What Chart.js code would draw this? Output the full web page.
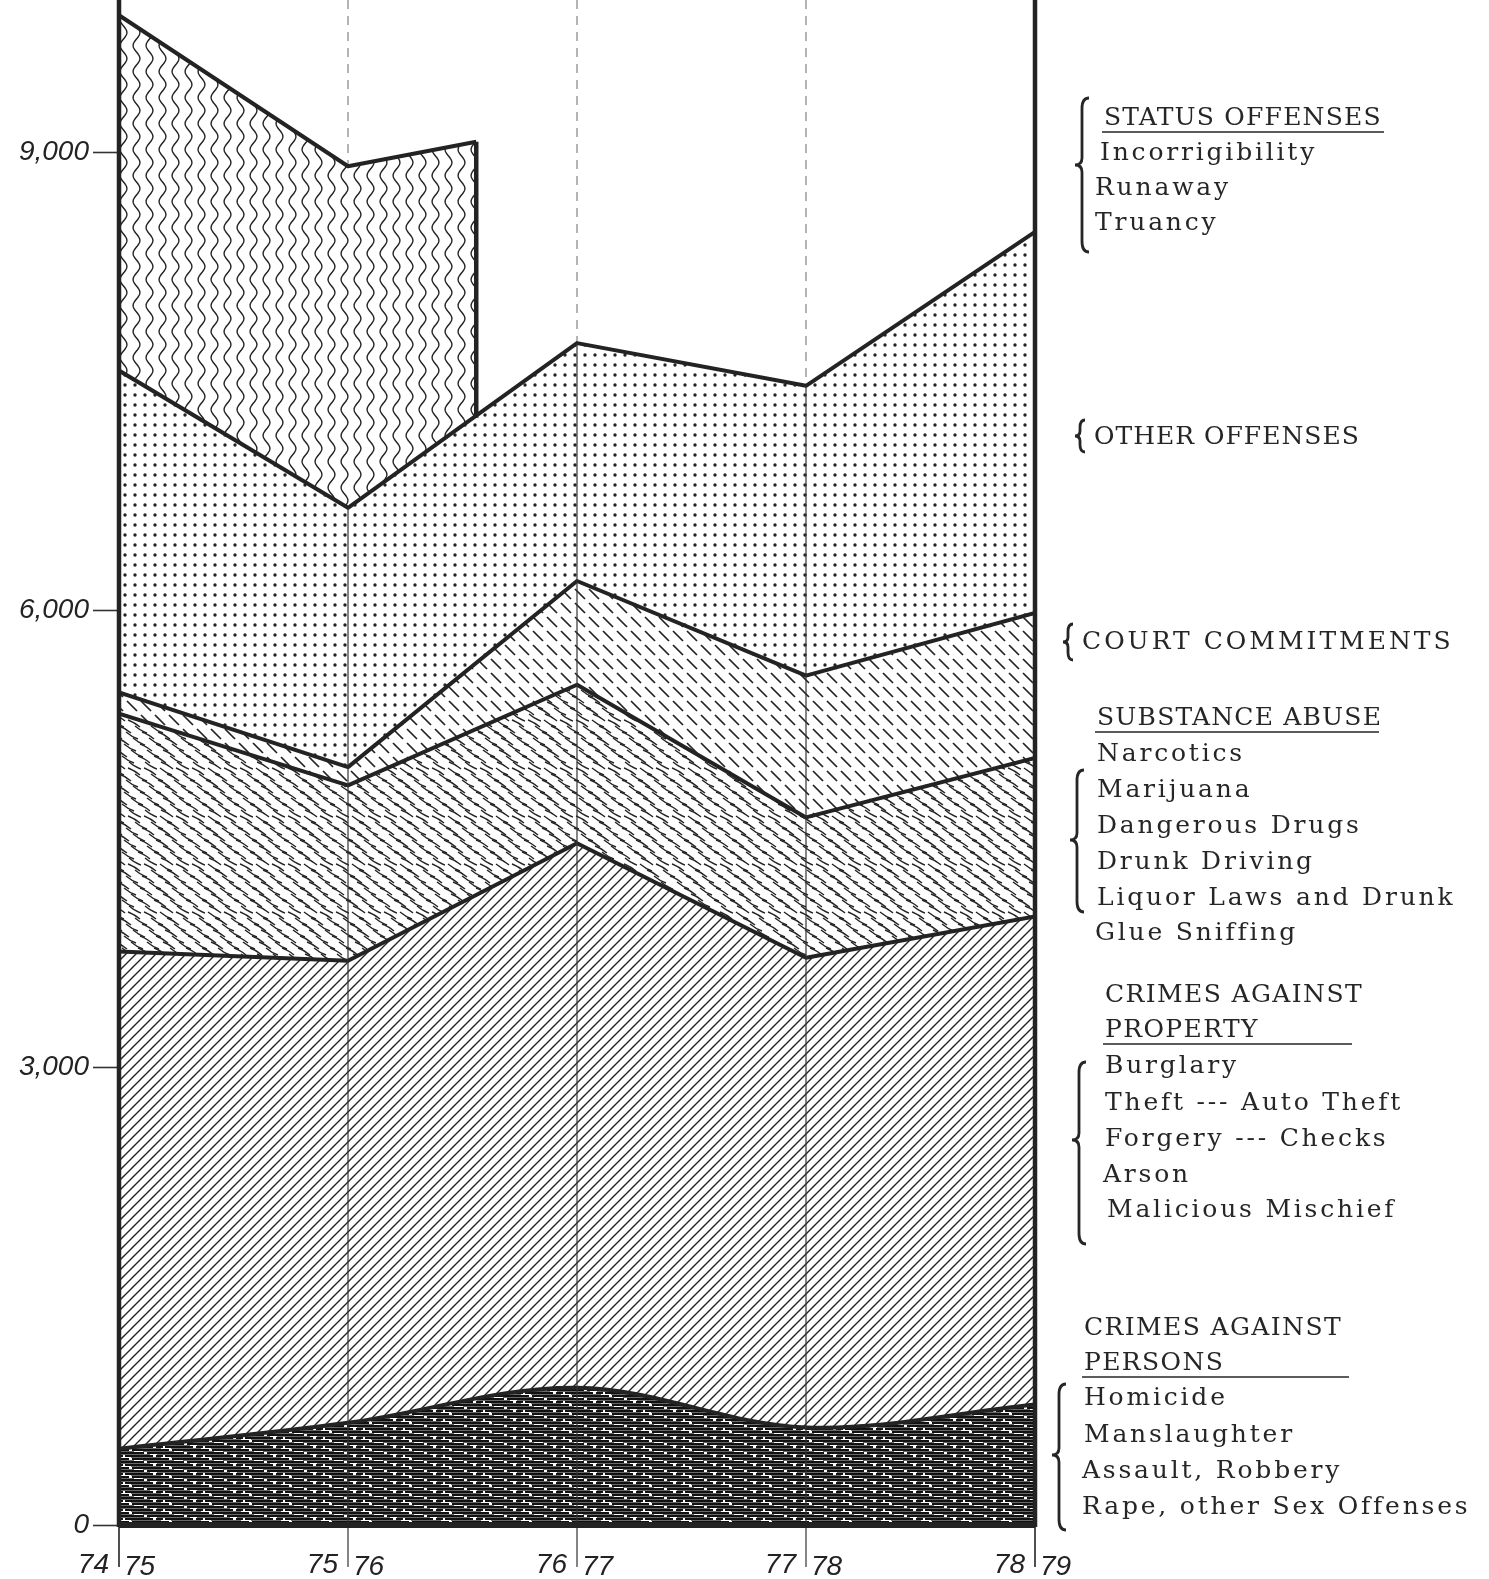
<!DOCTYPE html>
<html>
<head>
<meta charset="utf-8">
<script src="https://cdn.jsdelivr.net/npm/chart.js@4.4.0/dist/chart.umd.min.js"></script>
<style>
  html, body { margin: 0; padding: 0; background: #fff; }
</style>
</head>
<body>
<canvas id="chart" width="1489" height="1579"></canvas>
<script>
// values (juveniles by offense group, fiscal years)
const periods   = ['74|75', '75|76', '76|77', '77|78', '78|79'];
const persons   = [500, 670, 900, 640, 790];
const property  = [3260, 3030, 3570, 3080, 3200];
const substance = [1560, 1150, 1040, 920, 1040];
const court     = [140, 120, 680, 930, 950];
const other     = [2110, 1700, 1560, 1900, 2500];
// status offenses stop part way through 76|77
const statusX      = [0, 1, 1.56];
const statusBottom = [7570, 6670, 7260];
const statusTop    = [9900, 8910, 9070];
const yTicks = [0, 3000, 6000, 9000];

const canvas = document.getElementById('chart');
const ctx = canvas.getContext('2d');
const INK = '#232323';

function tile(w, h, draw, bg) {
  const c = document.createElement('canvas');
  c.width = w; c.height = h;
  const g = c.getContext('2d');
  g.fillStyle = bg || '#fff';
  g.fillRect(0, 0, w, h);
  g.strokeStyle = INK;
  g.fillStyle = INK;
  draw(g, w, h);
  return ctx.createPattern(c, 'repeat');
}

// dense horizontal dashes, nearly black
const pPersons = tile(40, 9, (g) => {
  g.fillStyle = '#111';
  [0, 3, 6].forEach(r => g.fillRect(0, r, 40, 2));
  g.fillStyle = '#fff';
  g.fillRect(9, 0, 3, 2);
  g.fillRect(24, 3, 3, 2);
  g.fillRect(3, 6, 2, 2); g.fillRect(33, 6, 3, 2);
  g.fillRect(14, 2, 9, 1); g.fillRect(30, 5, 7, 1); g.fillRect(1, 8, 10, 1);
}, '#6a6a6a');
// "/" hatch
const pProperty = tile(10, 10, (g, s) => {
  g.lineWidth = 1.4;
  g.beginPath();
  g.moveTo(0, s); g.lineTo(s, 0);
  g.moveTo(-2, 2); g.lineTo(2, -2);
  g.moveTo(s - 2, s + 2); g.lineTo(s + 2, s - 2);
  g.stroke();
});
// short wavy strokes
const pSubstance = tile(48, 48, (g) => {
  g.lineWidth = 1.35;
  for (let i = 0; i < 8; i++) {
    for (let j = 0; j < 3; j++) {
      const x0 = j * 16 + (i * 7) % 16, y0 = i * 6;
      const bend = (i + j) % 2 ? 2 : -1;
      for (const dx of [-48, 0, 48]) for (const dy of [-48, 0, 48]) {
        g.beginPath();
        g.moveTo(x0 + dx, y0 + dy);
        g.quadraticCurveTo(x0 + dx + 6, y0 + dy + 3 + bend, x0 + dx + 12, y0 + dy + 7);
        g.stroke();
      }
    }
  }
});
// "\" dashed hatch
const pCourt = tile(14, 14, (g) => {
  g.lineWidth = 1.7;
  g.beginPath();
  g.moveTo(1, 1); g.lineTo(11, 11);
  g.stroke();
});
// dot screen
const pOther = tile(10, 10, (g) => {
  g.beginPath();
  g.arc(5, 5, 1.7, 0, Math.PI * 2);
  g.fill();
});
// vertical wavy lines
const pStatus = tile(13, 26, (g) => {
  g.lineWidth = 1.4;
  g.beginPath();
  for (let y = -1; y <= 27; y++) {
    const x = 6.5 + 3.4 * Math.sin(2 * Math.PI * y / 26);
    if (y === -1) g.moveTo(x, y); else g.lineTo(x, y);
  }
  g.stroke();
});

const pts = arr => arr.map((v, i) => ({ x: i, y: v }));

const layer = (label, arr, pattern, fill, extra) => Object.assign({
  label, data: pts(arr), backgroundColor: pattern, fill, stack: 'main'
}, extra || {});

const datasets = [
  layer('Crimes against persons', persons, pPersons, 'origin', { tension: 0.35 }),
  layer('Crimes against property', property, pProperty, '-1'),
  layer('Substance abuse', substance, pSubstance, '-1'),
  layer('Court commitments', court, pCourt, '-1'),
  layer('Other offenses', other, pOther, '-1'),
  {
    label: 'status base', stack: 'status', fill: false, borderWidth: 0,
    borderColor: 'rgba(0,0,0,0)',
    data: statusBottom.map((v, i) => ({ x: statusX[i], y: v }))
  },
  {
    label: 'Status offenses', stack: 'status', fill: '-1', backgroundColor: pStatus,
    data: statusTop.map((v, i) => ({ x: statusX[i], y: v - statusBottom[i] }))
  }
];

// text, x, y, underline end (true = text width), letter spacing
const legendLines = [
  ['STATUS OFFENSES', 1104, 118, 1384, 1.2],
  ['Incorrigibility', 1100, 153],
  ['Runaway', 1095, 188],
  ['Truancy', 1095, 223],
  ['OTHER OFFENSES', 1094, 437, 0, 1.0],
  ['COURT COMMITMENTS', 1082, 642, 0, 3],
  ['SUBSTANCE ABUSE', 1097, 718, 1379, 1.2],
  ['Narcotics', 1097, 754],
  ['Marijuana', 1097, 790],
  ['Dangerous Drugs', 1097, 826],
  ['Drunk Driving', 1097, 862],
  ['Liquor Laws and Drunk', 1097, 898],
  ['Glue Sniffing', 1095, 933],
  ['CRIMES AGAINST', 1105, 995, 0, 1.4],
  ['PROPERTY', 1105, 1030, 1352, 1.4],
  ['Burglary', 1105, 1066],
  ['Theft --- Auto Theft', 1105, 1103],
  ['Forgery --- Checks', 1105, 1139],
  ['Arson', 1103, 1175],
  ['Malicious Mischief', 1107, 1210],
  ['CRIMES AGAINST', 1084, 1328, 0, 1.4],
  ['PERSONS', 1084, 1363, 1349, 1.4],
  ['Homicide', 1084, 1398],
  ['Manslaughter', 1084, 1435],
  ['Assault, Robbery', 1082, 1471],
  ['Rape, other Sex Offenses', 1082, 1507]
];
// x, top, bottom, point, width
const braces = [
  [1082, 98, 252, 165, 7],
  [1080, 420, 452, 436, 5],
  [1068, 624, 660, 642, 5],
  [1077, 770, 912, 840, 7],
  [1079, 1062, 1244, 1140, 7],
  [1059, 1384, 1530, 1455, 7]
];

function brace(g, x, y1, y2, ym, w) {
  g.beginPath();
  g.moveTo(x + w, y1);
  g.quadraticCurveTo(x, y1, x, y1 + w * 1.5);
  g.lineTo(x, ym - w);
  g.quadraticCurveTo(x, ym, x - w, ym);
  g.quadraticCurveTo(x, ym, x, ym + w);
  g.lineTo(x, y2 - w * 1.5);
  g.quadraticCurveTo(x, y2, x + w, y2);
  g.stroke();
}

function vline(g, x, y1, y2) {
  g.beginPath(); g.moveTo(x, y1); g.lineTo(x, y2); g.stroke();
}

const frame = {
  id: 'frame',
  beforeDatasetsDraw(chart) {
    const { ctx: g, chartArea, scales: { x } } = chart;
    g.save();
    g.strokeStyle = '#777';
    g.lineWidth = 1.1;
    g.setLineDash([9, 7]);
    [1, 2, 3].forEach(v => vline(g, x.getPixelForValue(v), chartArea.top, chartArea.bottom));
    g.restore();
  },
  afterDatasetsDraw(chart) {
    const { ctx: g, chartArea, scales: { x, y } } = chart;
    const base = y.getPixelForValue(0);
    const topMeta = chart.getDatasetMeta(4);
    g.save();
    g.strokeStyle = '#333';
    g.lineWidth = 1.2;
    [1, 2, 3].forEach(v => vline(g, x.getPixelForValue(v), topMeta.data[v].y, base + 42));
    g.strokeStyle = INK;
    g.lineWidth = 4.5;
    [0, 4].forEach(v => vline(g, x.getPixelForValue(v), chartArea.top, base + 2));
    g.lineWidth = 1.6;
    [0, 4].forEach(v => vline(g, x.getPixelForValue(v), base, base + 42));
    g.lineWidth = 6;
    g.beginPath();
    g.moveTo(x.getPixelForValue(0), base);
    g.lineTo(x.getPixelForValue(4), base);
    g.stroke();
    g.lineWidth = 4.5;
    vline(g, x.getPixelForValue(statusX[2]), y.getPixelForValue(statusTop[2]), y.getPixelForValue(statusBottom[2]));

    g.fillStyle = INK;
    g.font = 'italic 28px "Liberation Sans"';
    g.textBaseline = 'middle';
    periods.forEach((p, i) => {
      const [a, b] = p.split('|');
      const px = x.getPixelForValue(i);
      g.textAlign = 'right';
      g.fillText(a, px - 10, base + 40);
      g.textAlign = 'left';
      g.fillText(b, px + 5, base + 42);
    });
    g.restore();
  },
  afterDraw(chart) {
    const g = chart.ctx;
    g.save();
    g.fillStyle = '#262626';
    g.strokeStyle = '#262626';
    g.font = '25px "DejaVu Serif"';
    g.textBaseline = 'middle';
    g.textAlign = 'left';
    legendLines.forEach(([t, lx, ly, ul, sp]) => {
      g.letterSpacing = (sp === undefined ? 2.8 : sp) + 'px';
      g.fillText(t, lx, ly);
      if (ul) {
        g.lineWidth = 1.6;
        g.beginPath();
        g.moveTo(lx - 2, ly + 14);
        g.lineTo(ul, ly + 14);
        g.stroke();
      }
    });
    g.lineWidth = 2.8;
    braces.forEach(([bx, y1, y2, ym, w]) => brace(g, bx, y1, y2, ym, w));
    g.restore();
  }
};

new Chart(ctx, {
  type: 'line',
  data: { datasets },
  options: {
    responsive: false,
    animation: false,
    layout: { padding: { left: 0, right: 454, top: 0, bottom: 0 } },
    elements: {
      line: { borderColor: INK, borderWidth: 4, tension: 0, borderJoinStyle: 'round' },
      point: { radius: 0 }
    },
    plugins: {
      legend: { display: false },
      tooltip: { enabled: false },
      filler: { propagate: false }
    },
    scales: {
      x: {
        type: 'linear', min: 0, max: 4,
        ticks: { display: false },
        grid: { display: false },
        border: { display: false },
        afterFit: s => { s.height = 54; s.paddingLeft = 0; s.paddingRight = 0; }
      },
      y: {
        type: 'linear', stacked: true, min: 0, max: 10000,
        afterBuildTicks: s => { s.ticks = yTicks.map(v => ({ value: v })); },
        ticks: {
          color: INK,
          padding: 4,
          font: { family: '"Liberation Sans"', size: 28, style: 'italic' },
          callback: v => v.toLocaleString('en-US')
        },
        grid: {
          drawOnChartArea: false, drawTicks: true, tickLength: 26,
          tickColor: '#333', tickWidth: 1.6
        },
        border: { display: false },
        afterFit: s => { s.width = 119; s.paddingTop = 0; s.paddingBottom = 0; }
      }
    }
  },
  plugins: [frame]
});
</script>
</body>
</html>
